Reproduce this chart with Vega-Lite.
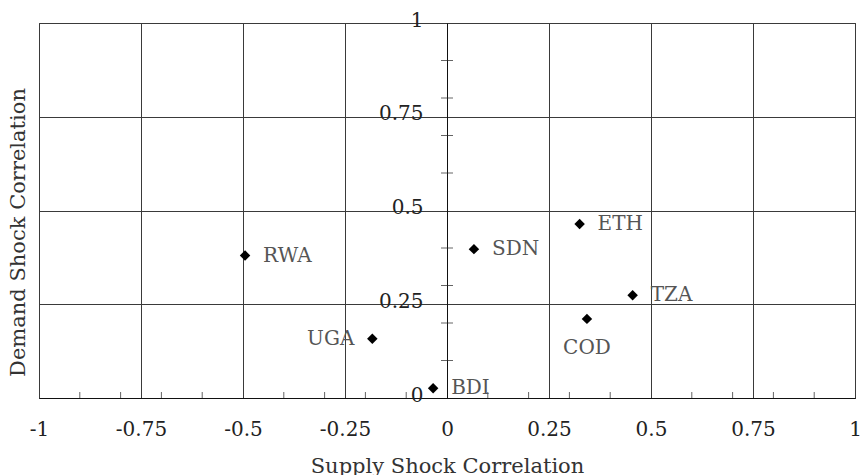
{
  "$schema": "https://vega.github.io/schema/vega-lite/v6.json",
  "width": 816,
  "height": 375,
  "autosize": {"type": "none"},
  "padding": {"left": 39, "top": 23, "right": 6, "bottom": 77},
  "background": "white",
  "config": {
    "view": {"stroke": "#222", "strokeWidth": 1},
    "font": "DejaVu Serif"
  },
  "datasets": {
    "shocks": [
      {"country": "RWA", "supply": -0.495, "demand": 0.380},
      {"country": "UGA", "supply": -0.183, "demand": 0.158},
      {"country": "BDI", "supply": -0.034, "demand": 0.026},
      {"country": "SDN", "supply": 0.066, "demand": 0.397},
      {"country": "ETH", "supply": 0.325, "demand": 0.464},
      {"country": "TZA", "supply": 0.455, "demand": 0.274},
      {"country": "COD", "supply": 0.343, "demand": 0.211}
    ],
    "xMinor": [
      {"v": -0.9}, {"v": -0.8}, {"v": -0.7}, {"v": -0.6}, {"v": -0.4}, {"v": -0.3}, {"v": -0.2}, {"v": -0.1},
      {"v": 0.1}, {"v": 0.2}, {"v": 0.3}, {"v": 0.4}, {"v": 0.6}, {"v": 0.7}, {"v": 0.8}, {"v": 0.9}
    ],
    "yMinor": [
      {"v": 0.1}, {"v": 0.2}, {"v": 0.3}, {"v": 0.4}, {"v": 0.6}, {"v": 0.7}, {"v": 0.8}, {"v": 0.9}
    ]
  },
  "layer": [
    {
      "data": {"name": "shocks"},
      "mark": {"type": "point", "shape": "diamond", "filled": true, "size": 110, "color": "#000", "opacity": 1},
      "encoding": {
        "x": {
          "field": "supply",
          "type": "quantitative",
          "title": "Supply Shock Correlation",
          "scale": {"domain": [-1, 1], "nice": false, "zero": false},
          "axis": {
            "values": [-1, -0.75, -0.5, -0.25, 0, 0.25, 0.5, 0.75, 1],
            "labelExpr": "toString(datum.value)",
            "domainColor": "#111",
            "domainWidth": 1,
            "ticks": true,
            "tickSize": 0,
            "tickColor": "transparent",
            "grid": true,
            "gridColor": "#3a3a3a",
            "gridWidth": 1,
            "labelFont": "DejaVu Serif",
            "labelFontSize": 20,
            "labelColor": "#222",
            "labelBaseline": "alphabetic",
            "labelPadding": 37,
            "labelFlush": false,
            "labelOverlap": false,
            "titleFont": "DejaVu Serif",
            "titleFontSize": 21,
            "titleFontWeight": "normal",
            "titleColor": "#333",
            "titleBaseline": "alphabetic",
            "titleY": 74
          }
        },
        "y": {
          "field": "demand",
          "type": "quantitative",
          "title": "Demand Shock Correlation",
          "scale": {"domain": [0, 1], "nice": false, "zero": false},
          "axis": {
            "offset": -408,
            "values": [0, 0.25, 0.5, 0.75, 1],
            "labelExpr": "toString(datum.value)",
            "domainColor": "#111",
            "domainWidth": 1,
            "ticks": true,
            "tickSize": 0,
            "tickColor": "transparent",
            "grid": true,
            "gridColor": "#3a3a3a",
            "gridWidth": 1,
            "labelFont": "DejaVu Serif",
            "labelFontSize": 20,
            "labelColor": "#222",
            "labelAlign": "right",
            "labelBaseline": "middle",
            "labelOffset": -3,
            "labelPadding": 24,
            "labelFlush": false,
            "labelOverlap": false,
            "titleFont": "DejaVu Serif",
            "titleFontSize": 21,
            "titleFontWeight": "normal",
            "titleColor": "#333",
            "titleAngle": -90,
            "titleAlign": "center",
            "titleBaseline": "middle",
            "titleX": -429,
            "titleY": 209
          }
        }
      }
    },
    {
      "data": {"name": "xMinor"},
      "mark": {"type": "tick", "orient": "vertical", "size": 6, "thickness": 1, "color": "#222", "yOffset": -3},
      "encoding": {
        "x": {"field": "v", "type": "quantitative", "title": "Supply Shock Correlation"},
        "y": {"datum": 0, "type": "quantitative", "title": "Demand Shock Correlation"}
      }
    },
    {
      "data": {"name": "yMinor"},
      "mark": {"type": "tick", "orient": "horizontal", "size": 12, "thickness": 1, "color": "#222"},
      "encoding": {
        "x": {"datum": 0, "type": "quantitative", "title": "Supply Shock Correlation"},
        "y": {"field": "v", "type": "quantitative", "title": "Demand Shock Correlation"}
      }
    },
    {
      "data": {"name": "shocks"},
      "transform": [{"filter": {"field": "country", "oneOf": ["RWA", "BDI", "SDN", "ETH", "TZA"]}}],
      "mark": {"type": "text", "align": "left", "baseline": "middle", "dx": 18, "font": "DejaVu Serif", "fontSize": 20, "color": "#555"},
      "encoding": {
        "x": {"field": "supply", "type": "quantitative", "title": "Supply Shock Correlation"},
        "y": {"field": "demand", "type": "quantitative", "title": "Demand Shock Correlation"},
        "text": {"field": "country"}
      }
    },
    {
      "data": {"name": "shocks"},
      "transform": [{"filter": {"field": "country", "equal": "UGA"}}],
      "mark": {"type": "text", "align": "right", "baseline": "middle", "dx": -18, "font": "DejaVu Serif", "fontSize": 20, "color": "#555"},
      "encoding": {
        "x": {"field": "supply", "type": "quantitative", "title": "Supply Shock Correlation"},
        "y": {"field": "demand", "type": "quantitative", "title": "Demand Shock Correlation"},
        "text": {"field": "country"}
      }
    },
    {
      "data": {"name": "shocks"},
      "transform": [{"filter": {"field": "country", "equal": "COD"}}],
      "mark": {"type": "text", "align": "center", "baseline": "middle", "dy": 29, "font": "DejaVu Serif", "fontSize": 20, "color": "#555"},
      "encoding": {
        "x": {"field": "supply", "type": "quantitative", "title": "Supply Shock Correlation"},
        "y": {"field": "demand", "type": "quantitative", "title": "Demand Shock Correlation"},
        "text": {"field": "country"}
      }
    }
  ]
}
